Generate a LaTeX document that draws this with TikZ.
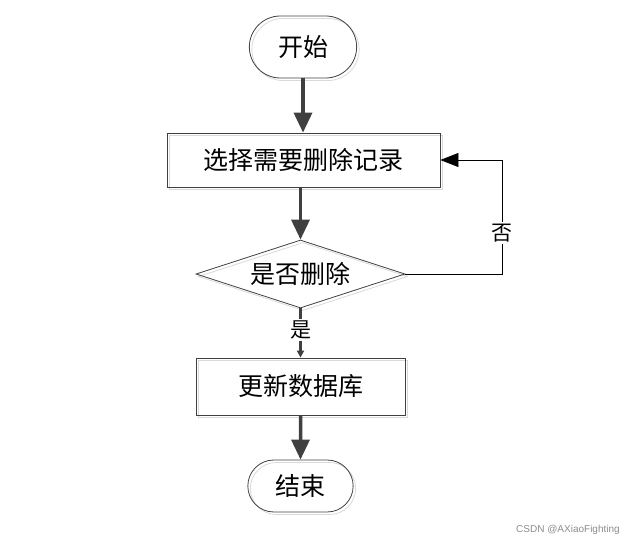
\documentclass[tikz,border=0pt]{standalone}
\usepackage{fontspec}
\usetikzlibrary{shapes.geometric,shapes.misc,arrows.meta}
\newfontfamily\cjk{Noto Sans CJK SC}
\newfontfamily\wmfont{Liberation Sans}

\begin{document}
\begin{tikzpicture}[x=1pt, y=-1pt,
	ghost/.style={preaction={draw=black!15, line width=0.8pt, transform canvas={shift={(2.5pt,-2.5pt)}}}},
	terminal/.style={ghost, rounded rectangle, draw=black!75, line width=0.8pt, minimum width=114pt, minimum height=62pt, font=\cjk\fontsize{25}{25}\selectfont},
	process/.style={ghost, rectangle, draw=black!75, line width=0.8pt, inner sep=0pt, font=\cjk\fontsize{25}{25}\selectfont},
	decision/.style={ghost, diamond, aspect=3.07, draw=black!75, line width=0.8pt, inner sep=0pt, minimum width=209pt, minimum height=68pt, font=\cjk\fontsize{25}{25}\selectfont},
	flow/.style={draw=black!75, line width=3.5pt, -{Triangle[length=20pt, width=18pt]}},
	back/.style={draw=black, line width=0.8pt, -{Triangle[length=18pt, width=14pt]}},
	answer/.style={fill=white, inner sep=2pt, font=\cjk\fontsize{21}{21}\selectfont}]
		\useasboundingbox (0,0) rectangle (630,543);
		
		\node[terminal] (start) at (303,47) {开始};
		\node[process, minimum width=273pt, minimum height=54pt] (select) at (303.5,160) {选择需要删除记录};
		\node[decision] (check) at (300.5,274) {是否删除};
		\node[process, minimum width=209pt, minimum height=57pt] (update) at (300.5,386.5) {更新数据库};
		\node[terminal, minimum width=112pt, minimum height=52pt] (stop) at (300.5,486) {结束};
		\coordinate (turn1) at (502,274);
		\coordinate (turn2) at (502,160);
		
		\path []
		(start.south) edge[flow] (start.south |- select.north)
		(select.south -| check) edge[flow] (check.north)
		(update) edge[flow] (stop);
		
		\draw[flow, -{Triangle[length=7pt, width=7pt]}] (check) -- node[answer, pos=0.44] {是} (update);
		\draw[back] (check.east) -- (turn1) -- node[answer, pos=0.36] {否} (turn2) -- (select.east);
		
		\node[text=black!45, font=\wmfont\fontsize{10}{10}\selectfont] (mark) at (568,530) {CSDN @AXiaoFighting};
		
	\end{tikzpicture}
\end{document}
